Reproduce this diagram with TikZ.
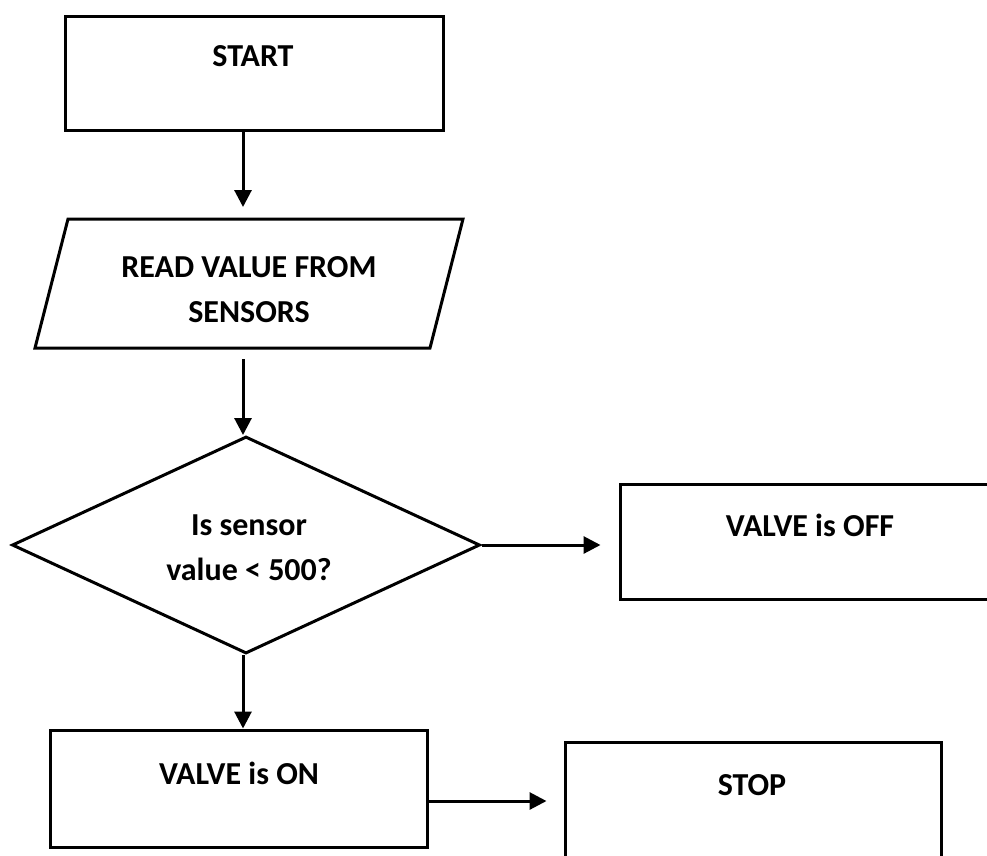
\documentclass[tikz,border=0pt]{standalone}
\usepackage{fontspec}
\setmainfont{Carlito}
\usetikzlibrary{shapes.geometric,arrows.meta,calc}

\begin{document}
\begin{tikzpicture}[x=1pt,y=-1pt,
  procbox/.style={draw=black, line width=3pt, rectangle, inner sep=0pt},
  decision/.style={draw=black, line width=3pt, diamond, inner sep=0pt},
  outline/.style={draw=black, line width=3pt},
  lbl/.style={font=\bfseries\fontsize{32}{45}\selectfont, align=center, inner sep=0pt},
  flow/.style={line width=3pt, -{Triangle[length=17pt,width=17pt]}}
]
% page area
\useasboundingbox (0,0) rectangle (987,855);
\fill[white] (0,0) rectangle (987,855);
\clip (0,0) rectangle (987,855);

% vertical spine of the main flow
\coordinate (spine) at (243,0);

% start
\node[procbox, minimum width=378pt, minimum height=114pt] (start) at (254,73) {};
\node[lbl] (startText) at (253,56) {START};

% input (parallelogram)
\draw[outline] (68,219) coordinate (rtl) -- (463,219) coordinate (rtr)
  -- (430,348) coordinate (rbr) -- (35,348) coordinate (rbl) -- cycle;
\node[lbl] (readText) at (249,290) {READ VALUE FROM\\SENSORS};

% decision
\node[decision, minimum width=468pt, minimum height=217pt] (test) at (246,545) {};
\node[lbl] (testText) at (249,548) {Is sensor\\value < 500?};

% outcomes
\node[procbox, minimum width=380pt, minimum height=115pt] (off) at (810,541.5) {};
\node[lbl] (offText) at (810,525) {VALVE is OFF};

\node[procbox, minimum width=377pt, minimum height=117pt] (on) at (238.5,788.5) {};
\node[lbl] (onText) at (239,773) {VALVE is ON};

\node[procbox, minimum width=376pt, minimum height=117pt] (stop) at (753,800.5) {};
\node[lbl] (stopText) at (752,785) {STOP};

% connectors
\draw[flow, shorten >=12pt] (start.south -| spine) -- (rtl -| spine);
\draw[flow, shorten <=11pt] (rbl -| spine) -- (test.north -| spine);
\draw[flow] (test.south -| spine) -- (on.north -| spine);
\draw[flow, shorten >=18pt] (test.east) -- (test.east -| off.west);
\draw[flow, shorten >=17pt] ([yshift=-12.5pt]on.east) -- ([yshift=-12.5pt]on.east -| stop.west);
\end{tikzpicture}
\end{document}
